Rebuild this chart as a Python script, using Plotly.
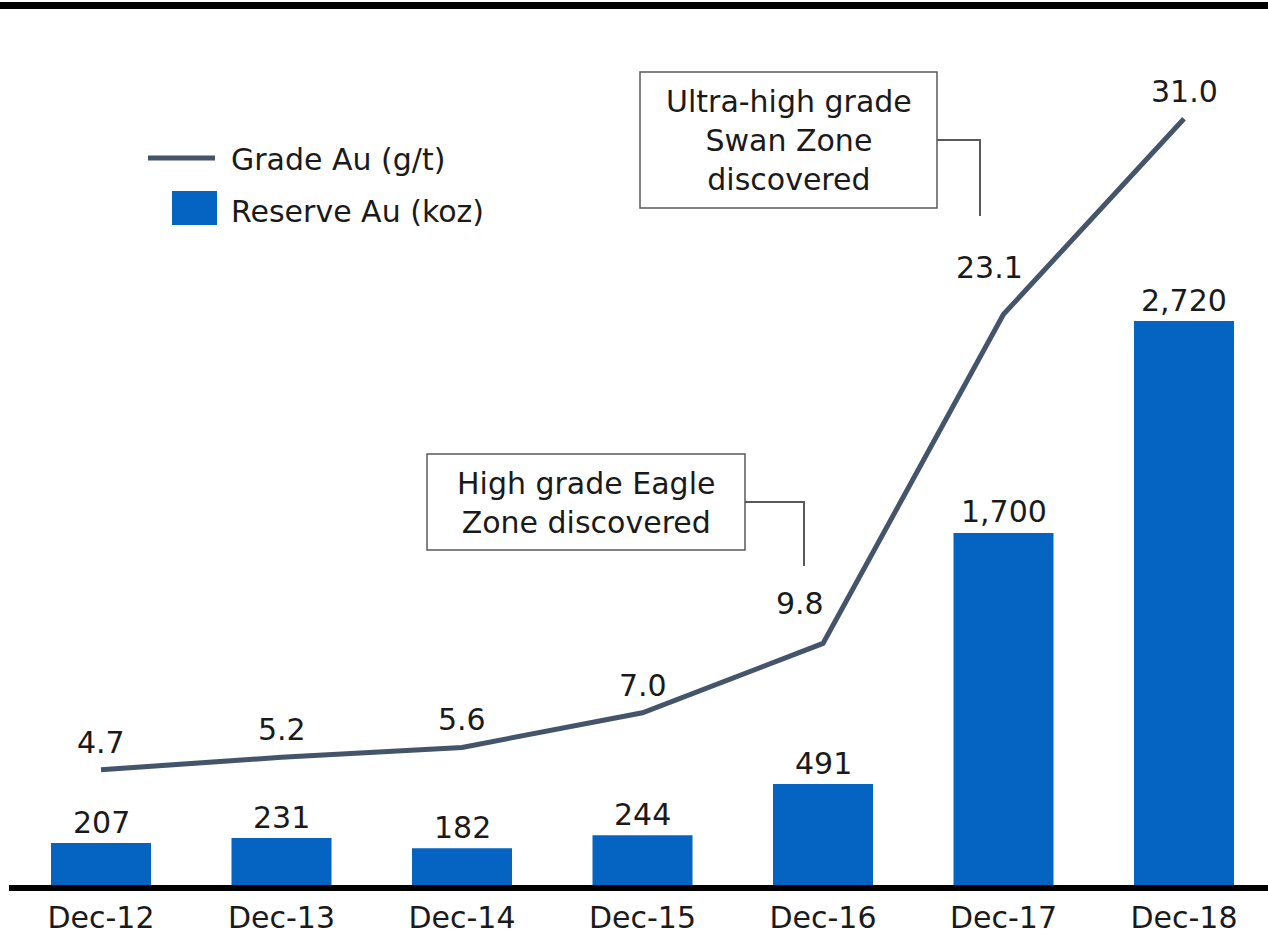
import plotly.graph_objects as go

# ---- data ----
periods = ["Dec-12", "Dec-13", "Dec-14", "Dec-15", "Dec-16", "Dec-17", "Dec-18"]
reserve_koz = [207, 231, 182, 244, 491, 1700, 2720]
reserve_labels = ["207", "231", "182", "244", "491", "1,700", "2,720"]
grade_gt = [4.7, 5.2, 5.6, 7.0, 9.8, 23.1, 31.0]
grade_labels = ["4.7", "5.2", "5.6", "7.0", "9.8", "23.1", "31.0"]
legend_names = ["Grade Au (g/t)", "Reserve Au (koz)"]
callout_texts = ["Ultra-high grade<br>Swan Zone<br>discovered",
                 "High grade Eagle<br>Zone discovered"]

# ---- style ----
W, H = 1268, 937
PLOT_H = 886
BAR_COLOR = "#0563C1"
LINE_COLOR = "#44546A"
TEXT_COLOR = "#1a1a1a"
BOX_COLOR = "#595959"
FONT = "DejaVu Sans"
FS = 30

def px(x):
    return x / W

def py(y):
    return (PLOT_H - y) / PLOT_H

# offsets of grade labels (px) relative to points
grade_label_dx = [0, 0, 0, 0, -23, -14, 0]
grade_label_dy = [27, 28, 28, 27, 40, 47, 27]

fig = go.Figure()
fig.add_trace(go.Bar(
    x=periods, y=reserve_koz, name=legend_names[1],
    marker=dict(color=BAR_COLOR, line=dict(width=0)),
    width=0.554, showlegend=False, hoverinfo="x+y",
))
fig.add_trace(go.Scatter(
    x=periods, y=grade_gt, name=legend_names[0], yaxis="y2",
    mode="lines", line=dict(color=LINE_COLOR, width=5),
    showlegend=False, cliponaxis=False,
))

annotations = []
for p, v, t in zip(periods, reserve_koz, reserve_labels):
    annotations.append(dict(x=p, y=v, xref="x", yref="y", text=t,
                            showarrow=False, yanchor="middle", yshift=21,
                            font=dict(size=FS, color=TEXT_COLOR, family=FONT)))
for i, (p, v, t) in enumerate(zip(periods, grade_gt, grade_labels)):
    annotations.append(dict(x=p, y=v, xref="x", yref="y2", text=t,
                            showarrow=False, yanchor="middle",
                            xshift=grade_label_dx[i], yshift=grade_label_dy[i],
                            font=dict(size=FS, color=TEXT_COLOR, family=FONT)))

# legend text
annotations.append(dict(x=px(229), y=py(160), xref="paper", yref="paper",
                        text=legend_names[0], showarrow=False, xanchor="left",
                        yanchor="middle",
                        font=dict(size=FS, color=TEXT_COLOR, family=FONT)))
annotations.append(dict(x=px(229), y=py(211), xref="paper", yref="paper",
                        text=legend_names[1], showarrow=False, xanchor="left",
                        yanchor="middle",
                        font=dict(size=FS, color=TEXT_COLOR, family=FONT)))
# callout texts
annotations.append(dict(x=px(788.5), y=py(141), xref="paper", yref="paper",
                        text=callout_texts[0], showarrow=False, align="center",
                        xanchor="center", yanchor="middle",
                        font=dict(size=FS, color=TEXT_COLOR, family=FONT)))
annotations.append(dict(x=px(586), y=py(503), xref="paper", yref="paper",
                        text=callout_texts[1], showarrow=False, align="center",
                        xanchor="center", yanchor="middle",
                        font=dict(size=FS, color=TEXT_COLOR, family=FONT)))

shapes = [
    # top rule
    dict(type="line", xref="paper", yref="paper", x0=0, x1=1,
         y0=py(5.5), y1=py(5.5), line=dict(color="#000000", width=7)),
    # baseline
    dict(type="line", xref="paper", yref="paper", x0=px(9), x1=1,
         y0=py(888), y1=py(888), line=dict(color="#000000", width=6)),
    # legend symbols
    dict(type="line", xref="paper", yref="paper", x0=px(148), x1=px(215),
         y0=py(158), y1=py(158), line=dict(color=LINE_COLOR, width=5)),
    dict(type="rect", xref="paper", yref="paper", x0=px(172), x1=px(217),
         y0=py(225), y1=py(191), fillcolor=BAR_COLOR, line=dict(width=0)),
    # callout boxes
    dict(type="rect", xref="paper", yref="paper", x0=px(640), x1=px(937),
         y0=py(208), y1=py(72), line=dict(color=BOX_COLOR, width=1.5)),
    dict(type="rect", xref="paper", yref="paper", x0=px(427), x1=px(745),
         y0=py(550), y1=py(454), line=dict(color=BOX_COLOR, width=1.5)),
    # connectors
    dict(type="path", xref="paper", yref="paper",
         path=f"M {px(937)},{py(140)} L {px(980)},{py(140)} L {px(980)},{py(216)}",
         line=dict(color=BOX_COLOR, width=2)),
    dict(type="path", xref="paper", yref="paper",
         path=f"M {px(745)},{py(502)} L {px(804)},{py(502)} L {px(804)},{py(566)}",
         line=dict(color=BOX_COLOR, width=2)),
]

x_lo = -101 / 180.5
x_hi = (W - 101) / 180.5

fig.update_layout(
    width=W, height=H, autosize=False,
    margin=dict(l=0, r=0, t=0, b=H - PLOT_H, pad=0),
    paper_bgcolor="white", plot_bgcolor="white",
    font=dict(family=FONT, size=FS, color=TEXT_COLOR),
    xaxis=dict(type="category", range=[x_lo, x_hi], showgrid=False,
               zeroline=False, showline=False, ticks="", ticklabelstandoff=11,
               tickfont=dict(size=FS, color=TEXT_COLOR, family=FONT)),
    yaxis=dict(range=[0, PLOT_H / 0.20772], visible=False, showgrid=False),
    yaxis2=dict(range=[0, PLOT_H / 24.75], overlaying="y", visible=False,
                showgrid=False),
    annotations=annotations, shapes=shapes,
    showlegend=False,
)

fig.write_html("out.html", config={"displayModeBar": False},
               post_script="document.body.style.margin='0';document.body.style.overflow='hidden';")
